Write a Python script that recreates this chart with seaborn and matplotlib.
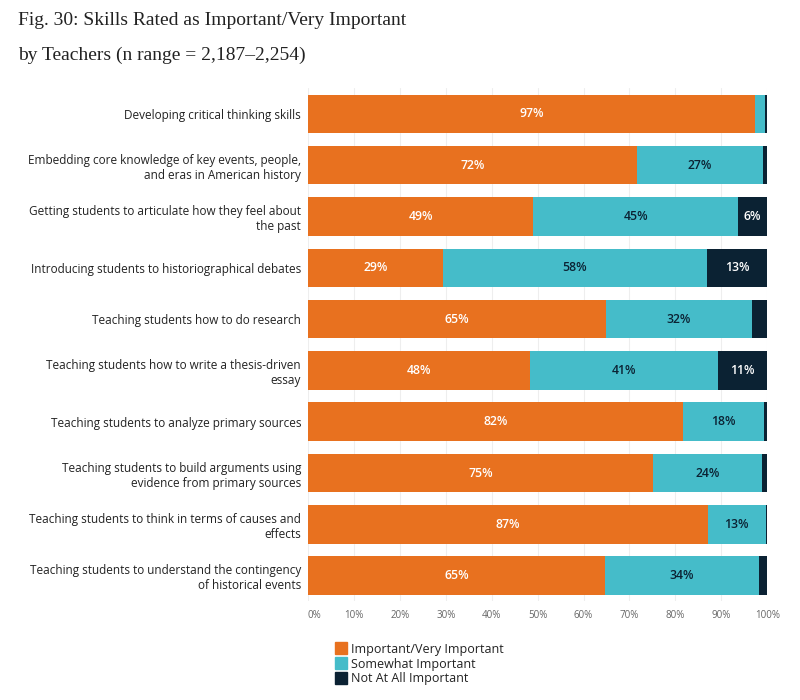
import matplotlib
matplotlib.use("Agg")
import matplotlib.pyplot as plt
import seaborn as sns
import numpy as np
import pandas as pd
from matplotlib.lines import Line2D

categories = [
    "Developing critical thinking skills",
    "Embedding core knowledge of key events, people,\nand eras in American history",
    "Getting students to articulate how they feel about\nthe past",
    "Introducing students to historiographical debates",
    "Teaching students how to do research",
    "Teaching students how to write a thesis-driven\nessay",
    "Teaching students to analyze primary sources",
    "Teaching students to build arguments using\nevidence from primary sources",
    "Teaching students to think in terms of causes and\neffects",
    "Teaching students to understand the contingency\nof historical events",
]
important = [97.4, 71.7, 49.1, 29.3, 64.8, 48.3, 81.7, 75.2, 87.0, 64.6]
somewhat = [2.2, 27.4, 44.6, 57.6, 31.9, 40.9, 17.7, 23.6, 12.7, 33.7]
not_at_all = [0.4, 0.9, 6.3, 13.1, 3.3, 10.8, 0.6, 1.2, 0.3, 1.7]
series_names = ["Important/Very Important", "Somewhat Important", "Not At All Important"]
tick_values = [0, 10, 20, 30, 40, 50, 60, 70, 80, 90, 100]
tick_labels = [f"{v}%" for v in tick_values]

colors = ["#E8711F", "#45BCC9", "#0B2233"]
label_colors = ["white", "#0B2233", "white"]

sns.set_theme(style="white")
plt.rcParams["font.family"] = ["Open Sans", "DejaVu Sans"]

df = pd.DataFrame({
    "skill": categories,
    "imp": important,
    "some": somewhat,
    "not": not_at_all,
})
df["c1"] = df["imp"]
df["c2"] = df["imp"] + df["some"]
df["c3"] = df["imp"] + df["some"] + df["not"]

fig = plt.figure(figsize=(8, 7), dpi=100)
ax = fig.add_axes([0.385, 0.141, 0.574, 0.733])

for col, c in zip(["c3", "c2", "c1"], colors[::-1]):
    sns.barplot(data=df, x=col, y="skill", order=categories, color=c,
                orient="h", width=0.75, ax=ax, saturation=1, linewidth=0)

# annotations
for i in range(len(categories)):
    segs = [df.loc[i, "imp"], df.loc[i, "some"], df.loc[i, "not"]]
    start = 0
    for j, v in enumerate(segs):
        if v >= 5:
            ax.text(start + v / 2, i, f"{round(v)}%", ha="center", va="center",
                    color=label_colors[j], fontsize=8.8, fontweight="semibold")
        start += v

ax.set_xlim(0, 100)
ax.set_ylim(len(categories) - 0.5, -0.5)
ax.set_xticks(tick_values)
ax.set_xticklabels(tick_labels)
ax.set_xlabel("")
ax.set_ylabel("")
ax.xaxis.grid(True, color="#eeeeee", linewidth=0.8)
ax.set_axisbelow(True)
for s in ax.spines.values():
    s.set_visible(False)
ax.tick_params(axis="x", length=0, labelsize=7, labelcolor="#666666", pad=6)
ax.tick_params(axis="y", length=0, labelsize=8.5, labelcolor="#222222", pad=5)
for lbl in ax.get_yticklabels():
    lbl.set_multialignment("right")
xl = ax.get_xticklabels()
xl[0].set_ha("left")

fig.text(0.022, 0.971, "Fig. 30: Skills Rated as Important/Very Important",
         fontsize=14, family=["Liberation Serif", "DejaVu Serif"], color="#222222",
         va="center")
fig.text(0.022, 0.921, "by Teachers (n range = 2,187\u20132,254)",
         fontsize=14, family=["Liberation Serif", "DejaVu Serif"], color="#222222",
         va="center")

handles = [Line2D([0], [0], marker="s", linestyle="none", markersize=9,
                  markerfacecolor=c, markeredgecolor=c) for c in colors]
fig.legend(handles, series_names, loc="upper left", bbox_to_anchor=(0.412, 0.089),
           frameon=False, fontsize=9, handletextpad=0.3, labelspacing=0.15,
           borderaxespad=0, handlelength=1.0, labelcolor="#222222")

fig.savefig("out.png", dpi=100)
